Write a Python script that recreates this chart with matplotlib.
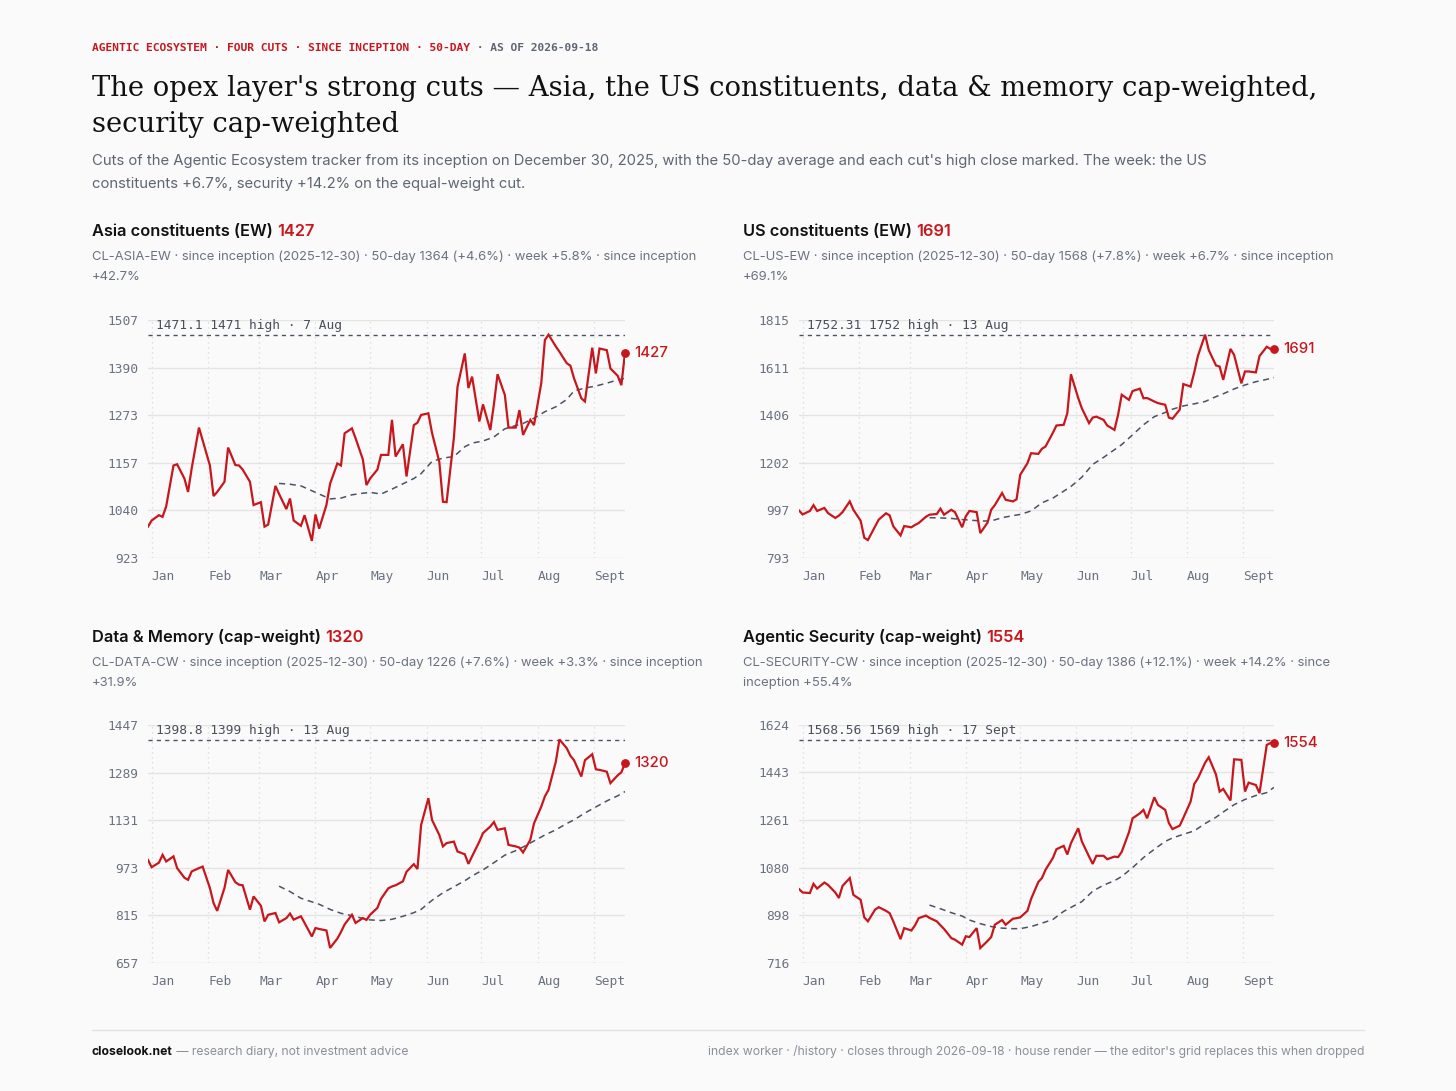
import matplotlib
matplotlib.use("Agg")
import matplotlib.pyplot as plt
import numpy as np
import pandas as pd
from matplotlib.lines import Line2D

W, H = 1456, 1091
BG = "#fafafa"
RED = "#c8161d"
INK = "#111111"
GREY = "#5f6672"
TICK = "#6b7280"
GRID = "#e4e4e4"
MA_COLOUR = "#4b5263"
SANS = ["Inter", "DejaVu Sans"]
SERIF = ["DejaVu Serif"]
MONO = ["DejaVu Sans Mono"]

# every other trading day from inception (2025-12-30) to the last close
DATES = pd.bdate_range("2025-12-30", "2026-09-18")[::2]
MA_DATES = DATES[26::2]
MONTH_STARTS = pd.date_range("2026-01-01", "2026-09-01", freq="MS")
MONTHS = ["Jan", "Feb", "Mar", "Apr", "May", "Jun", "Jul", "Aug", "Sept"]

ASIA = [1000, 1015, 1028, 1024, 1050, 1150, 1153, 1118, 1085, 1143,
        1243, 1212, 1150, 1075, 1085, 1110, 1194, 1151, 1150, 1140,
        1110, 1053, 1060, 1000, 1005, 1100, 1080, 1043, 1069, 1015,
        1002, 1028, 965, 1030, 995, 1053, 1105, 1155, 1150, 1229,
        1241, 1217, 1165, 1102, 1118, 1140, 1176, 1176, 1262, 1172,
        1202, 1123, 1249, 1255, 1274, 1278, 1230, 1159, 1061, 1060,
        1217, 1343, 1425, 1340, 1368, 1258, 1300, 1237, 1300, 1374,
        1323, 1243, 1243, 1286, 1225, 1262, 1249, 1352, 1458, 1471,
        1442, 1429, 1401, 1395, 1364, 1315, 1307, 1439, 1376, 1437,
        1433, 1388, 1370, 1347, 1427]
ASIA_MA = [1106, 1104, 1100, 1088, 1080, 1068, 1070, 1078, 1082, 1084,
           1080, 1092, 1105, 1118, 1130, 1160, 1168, 1172, 1196, 1205,
           1210, 1220, 1240, 1248, 1253, 1266, 1282, 1294, 1312, 1333,
           1340, 1345, 1352, 1360, 1364]

US = [997, 980, 995, 1020, 995, 1008, 986, 965, 975, 990,
      1036, 1000, 953, 880, 870, 929, 958, 985, 976, 929,
      890, 930, 925, 935, 943, 970, 979, 982, 1005, 979,
      1000, 990, 925, 972, 995, 990, 900, 945, 1000, 1020,
      1072, 1043, 1036, 1045, 1150, 1200, 1243, 1240, 1262, 1272,
      1330, 1362, 1365, 1415, 1582, 1480, 1436, 1372, 1396, 1400,
      1386, 1362, 1343, 1408, 1494, 1472, 1510, 1520, 1479, 1480,
      1465, 1458, 1451, 1396, 1391, 1430, 1540, 1529, 1590, 1660,
      1752, 1686, 1620, 1615, 1558, 1691, 1665, 1543, 1594, 1594,
      1590, 1660, 1700, 1691, 1691]
US_MA = [966, 965, 963, 958, 956, 952, 952, 966, 975, 980,
         995, 1030, 1050, 1080, 1100, 1140, 1195, 1225, 1258, 1280,
         1322, 1365, 1400, 1418, 1432, 1446, 1455, 1465, 1486, 1498,
         1519, 1536, 1550, 1560, 1568]

DATA = [999, 975, 990, 1016, 994, 1011, 972, 940, 933, 961,
        972, 977, 906, 856, 830, 906, 966, 925, 917, 915,
        834, 878, 847, 795, 817, 823, 792, 806, 821, 801,
        812, 790, 745, 773, 770, 765, 707, 738, 760, 785,
        817, 790, 806, 800, 817, 840, 870, 905, 911, 915,
        928, 960, 985, 969, 1115, 1204, 1132, 1082, 1044, 1055,
        1060, 1027, 1018, 986, 1011, 1060, 1088, 1110, 1125, 1099,
        1104, 1049, 1044, 1040, 1024, 1066, 1120, 1176, 1210, 1232,
        1325, 1399, 1370, 1345, 1330, 1276, 1330, 1350, 1300, 1298,
        1292, 1254, 1280, 1290, 1320]
DATA_MA = [912, 894, 872, 860, 852, 835, 822, 814, 805, 800,
           798, 802, 812, 824, 835, 865, 890, 910, 930, 946,
           966, 990, 1015, 1030, 1042, 1062, 1082, 1099, 1120, 1132,
           1155, 1175, 1195, 1212, 1226]

SEC = [998, 985, 983, 1018, 1000, 1023, 1014, 985, 964, 1010,
       1040, 976, 957, 890, 875, 920, 929, 915, 906, 875,
       807, 849, 840, 860, 887, 897, 888, 875, 860, 846,
       811, 805, 786, 818, 815, 849, 773, 800, 815, 862,
       880, 862, 885, 887, 890, 915, 960, 1025, 1040, 1072,
       1116, 1150, 1163, 1130, 1173, 1230, 1180, 1122, 1094, 1125,
       1125, 1112, 1122, 1120, 1140, 1215, 1268, 1287, 1300, 1268,
       1348, 1319, 1300, 1250, 1227, 1240, 1270, 1332, 1399, 1420,
       1480, 1501, 1435, 1370, 1380, 1336, 1493, 1491, 1370, 1404,
       1395, 1364, 1548, 1555, 1554]
SEC_MA = [937, 923, 908, 895, 880, 866, 855, 849, 847, 847,
          855, 868, 882, 913, 928, 950, 990, 1013, 1030, 1046,
          1080, 1118, 1150, 1180, 1193, 1207, 1220, 1248, 1272, 1292,
          1320, 1340, 1355, 1366, 1386]

TITLES = ["Asia constituents (EW)", "US constituents (EW)",
          "Data & Memory (cap-weight)", "Agentic Security (cap-weight)"]
LAST = ["1427", "1691", "1320", "1554"]
NOTES = [
    ["CL-ASIA-EW · since inception (2025-12-30) · 50-day 1364 (+4.6%) · week +5.8% · since inception", "+42.7%"],
    ["CL-US-EW · since inception (2025-12-30) · 50-day 1568 (+7.8%) · week +6.7% · since inception", "+69.1%"],
    ["CL-DATA-CW · since inception (2025-12-30) · 50-day 1226 (+7.6%) · week +3.3% · since inception", "+31.9%"],
    ["CL-SECURITY-CW · since inception (2025-12-30) · 50-day 1386 (+12.1%) · week +14.2% · since", "inception +55.4%"],
]
HIGHS = [1471.1, 1752.31, 1398.8, 1568.56]
HIGH_LABELS = ["1471.1 1471 high · 7 Aug", "1752.31 1752 high · 13 Aug",
               "1398.8 1399 high · 13 Aug", "1568.56 1569 high · 17 Sept"]
YTICKS = [[923, 1040, 1157, 1273, 1390, 1507],
          [793, 997, 1202, 1406, 1611, 1815],
          [657, 815, 973, 1131, 1289, 1447],
          [716, 898, 1080, 1261, 1443, 1624]]
SERIES = [ASIA, US, DATA, SEC]
AVERAGES = [ASIA_MA, US_MA, DATA_MA, SEC_MA]

# panel pixel boxes: text left, plot left, plot right, heading y, plot top, plot bottom
PANELS = [(92, 148, 625, 231, 320, 558), (743, 799, 1274, 231, 320, 558),
          (92, 148, 625, 637, 725, 963), (743, 799, 1274, 637, 725, 963)]

fig = plt.figure(figsize=(W / 100, H / 100), dpi=100, facecolor=BG)
renderer = fig.canvas.get_renderer()


def px(x, y):
    return x / W, 1 - y / H


def run(x, y, pieces, **kw):
    # consecutive text pieces on one baseline, each with its own colour/weight
    for text, style in pieces:
        t = fig.text(*px(x, y), text, va="center", ha="left", **kw, **style)
        x = t.get_window_extent(renderer).x1
    return x


run(92, 48, [("AGENTIC ECOSYSTEM · FOUR CUTS · SINCE INCEPTION · 50-DAY", {"color": RED}),
             (" · AS OF 2026-09-18", {"color": GREY})], family=MONO, fontsize=8.1,
    fontweight="bold")
fig.text(*px(92, 88), "The opex layer's strong cuts — Asia, the US constituents, data & memory cap-weighted,",
         family=SERIF, fontsize=19.7, color=INK, va="center")
fig.text(*px(92, 125), "security cap-weighted", family=SERIF, fontsize=19.7, color=INK, va="center")
fig.text(*px(92, 161), "Cuts of the Agentic Ecosystem tracker from its inception on December 30, 2025, "
         "with the 50-day average and each cut's high close marked. The week: the US",
         family=SANS, fontsize=10.7, color=GREY, va="center")
fig.text(*px(92, 184), "constituents +6.7%, security +14.2% on the equal-weight cut.",
         family=SANS, fontsize=10.7, color=GREY, va="center")

for i, (tx, x0, x1, hy, y0, y1) in enumerate(PANELS):
    run(tx, hy, [(TITLES[i] + " ", {"color": INK}), (LAST[i], {"color": RED})],
        family=SANS, fontsize=11.8, fontweight="semibold")
    for k, line in enumerate(NOTES[i]):
        fig.text(*px(tx, hy + 26 + 20 * k), line, family=SANS, fontsize=9.4,
                 color=TICK, va="center")

    ax = fig.add_axes([x0 / W, 1 - y1 / H, (x1 - x0) / W, (y1 - y0) / H])
    ax.set_facecolor(BG)
    for spine in ax.spines.values():
        spine.set_visible(False)
    ticks = YTICKS[i]
    ax.set_ylim(ticks[0], ticks[-1])
    ax.set_yticks(ticks)
    ax.set_yticklabels([str(t) for t in ticks])
    ax.set_xlim(DATES[0], DATES[-1])
    ax.set_xticks(MONTH_STARTS)
    ax.set_xticklabels(MONTHS, ha="left", va="baseline")
    ax.tick_params(length=0, labelsize=9.3, labelcolor=TICK)
    ax.tick_params(axis="y", pad=7)
    ax.tick_params(axis="x", pad=15.5)
    for label in ax.get_xticklabels() + ax.get_yticklabels():
        label.set_family(MONO)
    ax.grid(axis="y", color=GRID, linewidth=1.0)
    ax.grid(axis="x", color="#d8d8d8", linewidth=0.9, linestyle=(0, (1, 3)))
    ax.set_axisbelow(True)

    ax.axhline(HIGHS[i], color=MA_COLOUR, linewidth=1.0, linestyle=(0, (3, 3)))
    ax.text(0.017, 0.975, HIGH_LABELS[i], transform=ax.transAxes, family=MONO,
            fontsize=9.3, color="#4a4f5a", va="center", ha="left")
    ax.plot(MA_DATES, AVERAGES[i], color=MA_COLOUR, linewidth=1.1, linestyle=(0, (4, 3)))
    ax.plot(DATES, SERIES[i], color=RED, linewidth=1.6, solid_joinstyle="miter")
    ax.scatter([DATES[-1]], [SERIES[i][-1]], s=28, color=RED, zorder=5, clip_on=False)
    ax.annotate(LAST[i], (DATES[-1], SERIES[i][-1]), xytext=(7, 0),
                textcoords="offset points", va="center", ha="left", color=RED,
                family=SANS, fontsize=10.8, fontweight="medium", annotation_clip=False)

fig.add_artist(Line2D([92 / W, 1364 / W], [1 - 1030 / H] * 2, color="#e2e2e2", linewidth=1.0))
run(92, 1052, [("closelook.net", {"color": INK, "fontweight": "bold"}),
               (" — research diary, not investment advice", {"color": "#8a909a"})],
    family=SANS, fontsize=8.75)
fig.text(*px(1364, 1052), "index worker · /history · closes through 2026-09-18 · house render — "
         "the editor's grid replaces this when dropped",
         family=SANS, fontsize=8.75, color="#8a909a", va="center", ha="right")

fig.savefig("out.png", dpi=100, facecolor=BG)
